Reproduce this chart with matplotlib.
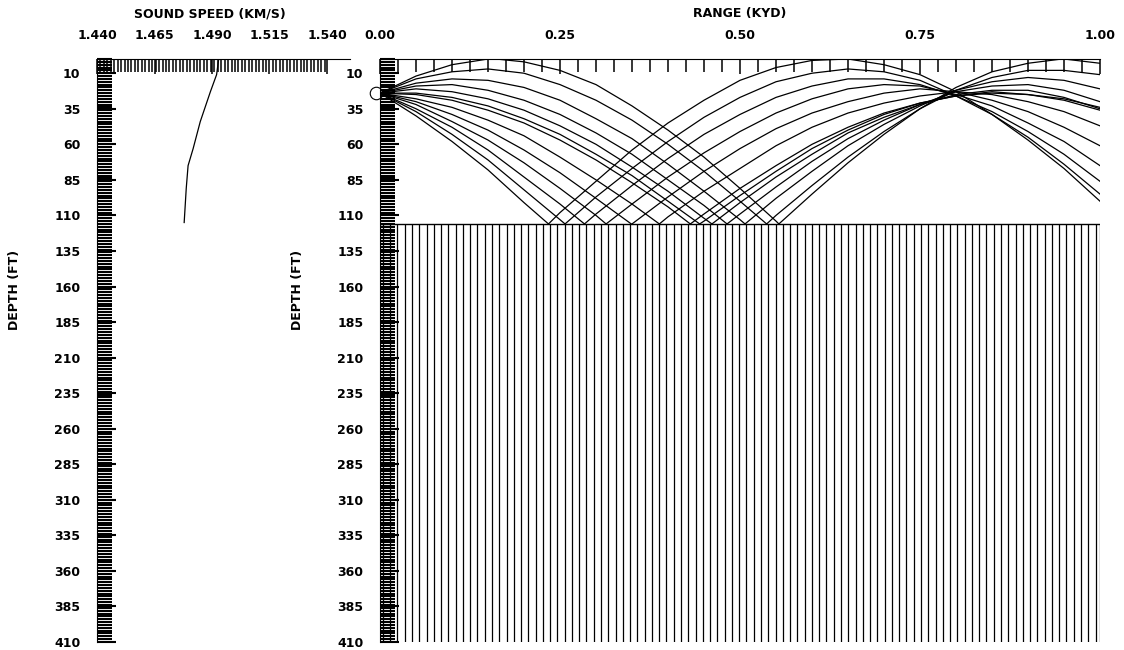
import matplotlib.pyplot as plt
from matplotlib.ticker import MultipleLocator, FixedLocator

# sound speed profile
ssp_depth = [0, 11, 23, 44, 63, 75, 91, 115]
ssp_speed = [1.4929, 1.4920, 1.4893, 1.4849, 1.4818, 1.4796, 1.4788, 1.4779]

speed_ticks = [1.440, 1.465, 1.490, 1.515, 1.540]
depth_ticks = [10, 35, 60, 85, 110, 135, 160, 185, 210, 235, 260, 285, 310, 335, 360, 385, 410]
range_ticks = [0.00, 0.25, 0.50, 0.75, 1.00]

bottom_depth = 116
source_range, source_depth = -0.005, 24

# ray depths (ft) read every 0.05 kyd, plus where each ray hits the bottom / surface
ray_range = [0.00, 0.05, 0.10, 0.15, 0.20, 0.25, 0.30, 0.35, 0.40, 0.45, 0.50,
             0.55, 0.60, 0.65, 0.70, 0.75, 0.80, 0.85, 0.90, 0.95, 1.00]
ray_depths = [
    [24, 12, 4, 0, 2, 8, 18, 33, 50, 69, 91, 114, 95, 73, 53, 35, 20, 9, 3, 0, 3],
    [24, 14, 9, 7, 10, 18, 29, 43, 60, 79, 100, 110, 89, 69, 51, 35, 22, 13, 8, 8, 11],
    [24, 17, 14, 15, 20, 29, 42, 56, 74, 93, 113, 98, 79, 61, 46, 33, 22, 16, 13, 15, 21],
    [24, 19, 18, 22, 29, 39, 52, 67, 85, 103, 109, 90, 72, 56, 43, 32, 23, 19, 18, 22, 30],
    [24, 21, 23, 28, 36, 47, 60, 76, 93, 112, 101, 83, 67, 52, 41, 32, 25, 22, 22, 27, 35],
    [24, 24, 27, 33, 42, 53, 67, 82, 100, 114, 96, 79, 63, 50, 39, 31, 26, 23, 25, 29, 36],
    [24, 25, 29, 36, 45, 57, 71, 87, 104, 109, 91, 75, 60, 48, 38, 31, 26, 24, 25, 28, 34],
    [24, 28, 34, 43, 54, 69, 85, 102, 111, 93, 77, 61, 48, 38, 31, 26, 23, 25, 30, 37, 47],
    [24, 30, 39, 50, 64, 80, 98, 116, 97, 79, 63, 49, 38, 30, 24, 21, 23, 29, 37, 48, 61],
    [24, 32, 44, 57, 73, 91, 110, 102, 83, 66, 51, 38, 28, 21, 18, 19, 25, 33, 45, 58, 75],
    [24, 35, 48, 64, 83, 102, 109, 89, 70, 53, 39, 27, 19, 14, 14, 18, 26, 37, 51, 67, 86],
    [24, 37, 53, 71, 92, 113, 97, 77, 58, 41, 27, 16, 10, 7, 9, 15, 26, 39, 55, 74, 95],
    [24, 40, 58, 78, 101, 108, 86, 64, 45, 29, 15, 6, 1, 0, 4, 11, 23, 39, 57, 77, 100],
]
bottom_hits = [0.554, 0.537, 0.507, 0.482, 0.461, 0.444, 0.431,
               0.388, 0.349, 0.314, 0.284, 0.257, 0.234]
surface_hits = [[0.161, 0.947], [], [], [], [], [], [],
                [], [], [], [], [], []]

fig = plt.figure('ray trace', figsize=(11.24, 6.5), dpi=100)
ax1 = fig.add_axes([97 / 1124, 8 / 650, 253 / 1124, 583 / 650])
ax2 = fig.add_axes([380 / 1124, 8 / 650, 720 / 1124, 583 / 650])

font = dict(family='DejaVu Sans', weight='bold', size=9)

# left panel : sound speed
ax1.plot(ssp_speed, ssp_depth, color='k', lw=0.9)
ax1.set_xlim(1.440, 1.440 + 0.1 * 253 / 230)
ax1.set_ylim(410, 0)
ax1.xaxis.tick_top()
ax1.set_xticks(speed_ticks)
ax1.set_xticklabels(['%.3f' % s for s in speed_ticks], **font)
ax1.xaxis.set_minor_locator(FixedLocator([1.440 + i * 0.0015 for i in range(67)]))

# right panel : rays
for depths, hit, tops in zip(ray_depths, bottom_hits, surface_hits):
    pts = list(zip(ray_range, depths)) + [(hit, bottom_depth)] + [(t, 0) for t in tops]
    pts.sort()
    ax2.plot([p[0] for p in pts], [p[1] for p in pts], color='k', lw=0.9)
ax2.plot(source_range, source_depth, 'o', ms=9, mfc='none', mec='k', mew=0.8, clip_on=False)

# sea floor
ax2.hlines(bottom_depth, 0, 1, color='k', lw=1)
hatch_x = [i * 0.0101 + 0.004 for i in range(99)] + [1.0]
ax2.vlines(hatch_x, bottom_depth, 410, color='k', lw=0.9)

ax2.set_xlim(0, 1)
ax2.set_ylim(410, 0)
ax2.xaxis.tick_top()
ax2.set_xticks(range_ticks)
ax2.set_xticklabels(['%.2f' % r for r in range_ticks], **font)
ax2.xaxis.set_minor_locator(MultipleLocator(0.025))

for ax in (ax1, ax2):
    ax.spines['right'].set_visible(False)
    ax.spines['bottom'].set_visible(False)
    ax.set_yticks(depth_ticks)
    ax.set_yticklabels([str(d) for d in depth_ticks], **font)
    ax.yaxis.set_minor_locator(MultipleLocator(2))
    ax.tick_params(which='both', direction='in', width=1.5)
    ax.tick_params(axis='y', which='major', length=14, pad=12)
    ax.tick_params(axis='y', which='minor', length=11)
    ax.tick_params(axis='x', which='major', length=11, pad=12, width=1.1)
    ax.tick_params(axis='x', which='minor', length=9, width=1.1)

fig.text(210 / 1124, 1 - 14 / 650, 'SOUND SPEED (KM/S)', ha='center', va='center', **font)
fig.text(740 / 1124, 1 - 14 / 650, 'RANGE (KYD)', ha='center', va='center', **font)
fig.text(15 / 1124, 1 - 290 / 650, 'DEPTH (FT)', rotation=90, ha='center', va='center', **font)
fig.text(297 / 1124, 1 - 290 / 650, 'DEPTH (FT)', rotation=90, ha='center', va='center', **font)

fig.savefig('out.png', dpi=100)
